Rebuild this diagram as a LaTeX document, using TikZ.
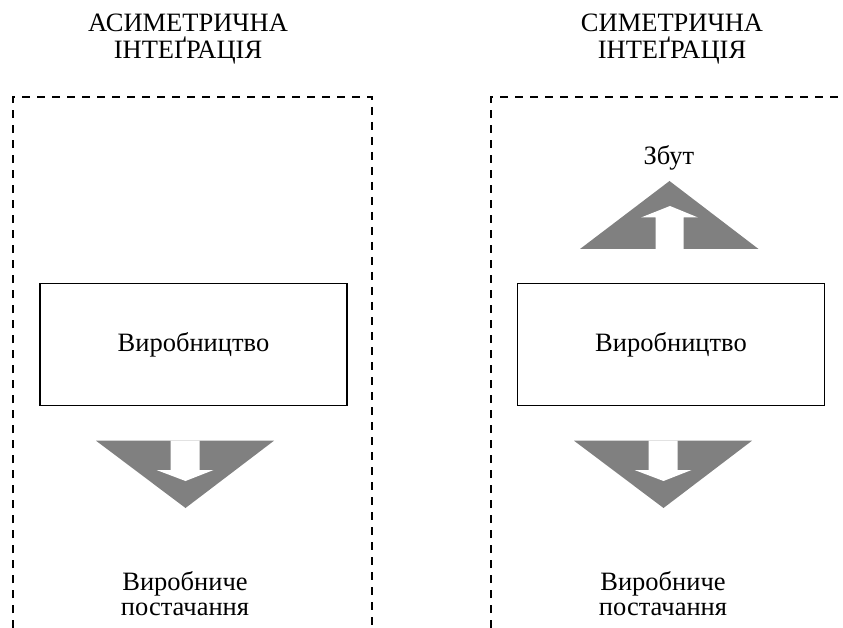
\documentclass[tikz,border=0pt]{standalone}
\usepackage{fontspec}
\setmainfont{Liberation Serif}
\usetikzlibrary{calc}
\definecolor{arrowgray}{RGB}{128,128,128}

\tikzset{
  frameline/.style={line width=1.7pt, dash pattern=on 8pt off 7pt},
  unitbox/.style={draw, line width=1.2pt, minimum width=307pt, minimum height=122pt},
  caption/.style={align=center, font=\fontsize{26.5}{27}\selectfont},
  label/.style={align=center, font=\fontsize{26.5}{25}\selectfont}
}

\begin{document}
\begin{tikzpicture}[x=1pt,y=-1pt]
    \useasboundingbox (0,0) rectangle (843,628);

    %titles
    \node[caption] (titleA) at (188,39.5) {АСИМЕТРИЧНА\\ІНТЕҐРАЦІЯ};
    \node[caption] (titleS) at (672,39.5) {СИМЕТРИЧНА\\ІНТЕҐРАЦІЯ};

    %frames
    \draw[frameline] (13,628) -- (13,97) -- (372,97) -- (372,628);
    \draw[frameline] (491,628) -- (491,97) -- (843,97);

    %production boxes
    \node[unitbox, label] (prodA) at (193.5,344.5) {Виробництво};
    \node[unitbox, label] (prodS) at (671,344.5) {Виробництво};

    %down arrows
    \foreach \cx/\nm in {185/A, 663/S} {
      \begin{scope}[shift={(\cx,440.7)}]
        \fill[arrowgray] (-89,0) -- (89,0) -- (0.5,67.3) -- cycle;
        \fill[white] (-14.5,0) -- (14.5,0) -- (14.5,29.3) -- (28.5,29.3) -- (0.5,40.3)
                     -- (-28.5,29.3) -- (-14.5,29.3) -- cycle;
      \end{scope}
    }

    %up arrow
    \begin{scope}[shift={(669.5,249)}]
      \fill[arrowgray] (-89.5,0) -- (89,0) -- (0,-68) -- cycle;
      \fill[white] (-14,0) -- (14,0) -- (14,-31.5) -- (28.5,-31.5) -- (0.5,-43)
                   -- (-28.5,-31.5) -- (-14,-31.5) -- cycle;
    \end{scope}

    %outputs
    \node[label] (saleS) at (669,158) {Збут};
    \node[label] (supA) at (185,594) {Виробниче\\постачання};
    \node[label] (supS) at (663,594) {Виробниче\\постачання};
\end{tikzpicture}
\end{document}
